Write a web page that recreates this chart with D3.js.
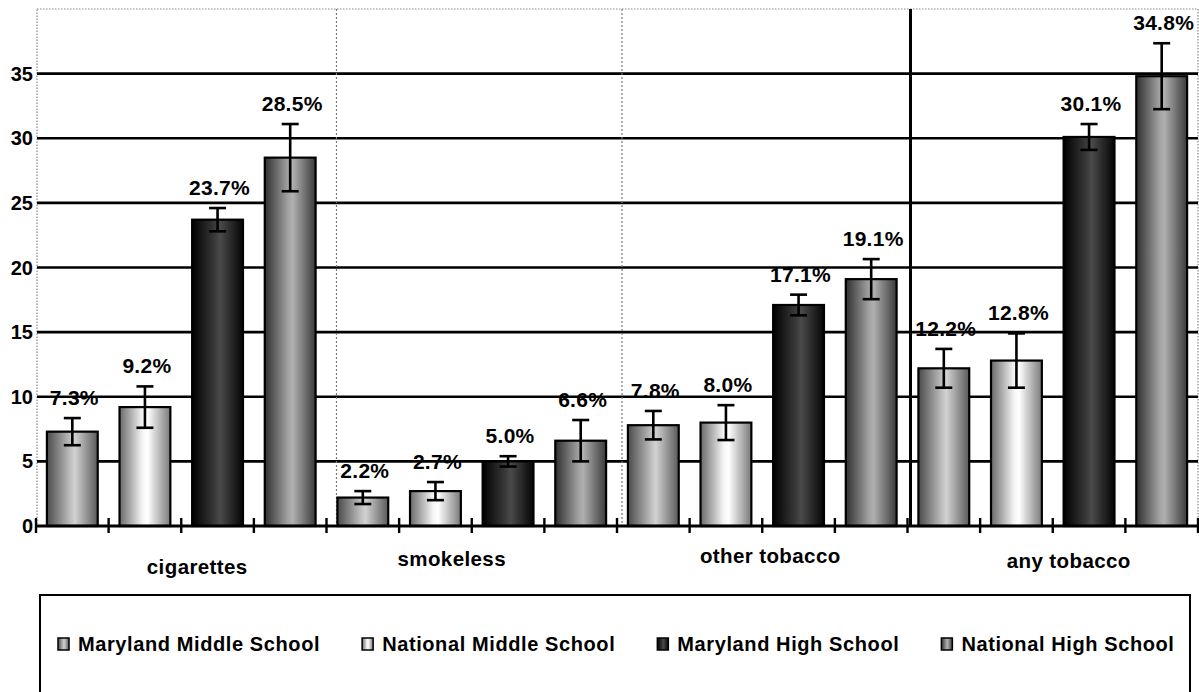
<!DOCTYPE html>
<html>
<head>
<meta charset="utf-8">
<script src="https://cdn.jsdelivr.net/npm/d3@7"></script>
<style>
  html, body { margin: 0; padding: 0; background: #fff; }
  svg { display: block; font-family: "Liberation Sans", Arial, sans-serif; font-weight: bold; }
</style>
</head>
<body>
<svg id="chart" width="1199" height="692"></svg>
<script>
// ---- data ----
const categories = ["cigarettes", "smokeless", "other tobacco", "any tobacco"];
const seriesNames = ["Maryland Middle School", "National Middle School", "Maryland High School", "National High School"];
const mdMiddle  = [7.3, 2.2, 7.8, 12.2];
const natMiddle = [9.2, 2.7, 8.0, 12.8];
const mdHigh    = [23.7, 5.0, 17.1, 30.1];
const natHigh   = [28.5, 6.6, 19.1, 34.8];
const errMdMiddle  = [1.05, 0.5, 1.1, 1.5];
const errNatMiddle = [1.6, 0.7, 1.35, 2.1];
const errMdHigh    = [0.9, 0.4, 0.8, 1.0];
const errNatHigh   = [2.6, 1.6, 1.55, 2.55];
const yTicks = [0, 5, 10, 15, 20, 25, 30, 35];

// ---- layout / style ----
const plotL = 36, plotR = 1198, plotT = 9, plotB = 526;
const gradStops = [
  ["#4a4a4a", "#bcbcbc", "#d2d2d2", "#5a5a5a"],
  ["#6a6a6a", "#f4f4f4", "#ffffff", "#7a7a7a"],
  ["#000000", "#3a3a3a", "#4a4a4a", "#050505"],
  ["#303030", "#a0a0a0", "#b0b0b0", "#3a3a3a"]
];
const catLabelShift = [[16, 48], [-20, 40], [8, 37], [16, 42]];
const dividerShift = [10, 5, 3];

const values = [mdMiddle, natMiddle, mdHigh, natHigh];
const errs = [errMdMiddle, errNatMiddle, errMdHigh, errNatHigh];
const rows = [];
categories.forEach((c, ci) => {
  seriesNames.forEach((s, si) => {
    rows.push({ cat: c, ci, series: s, si, v: values[si][ci], e: errs[si][ci] });
  });
});

const svg = d3.select("#chart");
const defs = svg.append("defs");
gradStops.forEach((st, i) => {
  const g = defs.append("linearGradient").attr("id", "g" + i)
    .attr("x1", "0%").attr("x2", "100%").attr("y1", "0%").attr("y2", "0%");
  [0, 45, 55, 100].forEach((o, k) => g.append("stop").attr("offset", o + "%").attr("stop-color", st[k]));
});

const x0 = d3.scaleBand().domain(categories).range([plotL, plotR]).padding(0);
const x1 = d3.scaleBand().domain(seriesNames).range([0, x0.bandwidth()]).paddingInner(0.3).paddingOuter(0.15);
const y = d3.scaleLinear().domain([0, 40]).range([plotB, plotT]);

// plot border (dotted)
svg.append("rect").attr("x", plotL + 1).attr("y", plotT).attr("width", plotR - plotL - 1).attr("height", plotB - plotT)
  .attr("fill", "none").attr("stroke", "#888").attr("stroke-width", 1.2).attr("stroke-dasharray", "1.5,1.5");

// gridlines
svg.append("g").selectAll("line").data(yTicks.filter(d => d > 0)).join("line")
  .attr("x1", plotL + 1).attr("x2", plotR).attr("y1", d => y(d)).attr("y2", d => y(d))
  .attr("stroke", "#000").attr("stroke-width", 2.6);

// dividers between groups
categories.slice(1).forEach((c, i) => {
  const xx = x0(c) + dividerShift[i];
  const solid = i === 2;
  svg.append("line").attr("x1", xx).attr("x2", xx).attr("y1", plotT).attr("y2", plotB)
    .attr("stroke", solid ? "#000" : "#777")
    .attr("stroke-width", solid ? 3 : 1.2)
    .attr("stroke-dasharray", solid ? null : "2,2");
});

// bars
svg.append("g").selectAll("rect").data(rows).join("rect")
  .attr("x", d => x0(d.cat) + x1(d.series))
  .attr("y", d => y(d.v))
  .attr("width", x1.bandwidth())
  .attr("height", d => y(0) - y(d.v))
  .attr("fill", d => "url(#g" + d.si + ")")
  .attr("stroke", "#000").attr("stroke-width", 2.2);

// error bars
const eg = svg.append("g").attr("stroke", "#000").attr("stroke-width", 2.6);
rows.forEach(d => {
  const cx = x0(d.cat) + x1(d.series) + x1.bandwidth() / 2;
  const yt = y(d.v + d.e), yb = y(d.v - d.e);
  eg.append("line").attr("x1", cx).attr("x2", cx).attr("y1", yt).attr("y2", yb);
  eg.append("line").attr("x1", cx - 8.5).attr("x2", cx + 8.5).attr("y1", yt).attr("y2", yt);
  eg.append("line").attr("x1", cx - 8.5).attr("x2", cx + 8.5).attr("y1", yb).attr("y2", yb);
});

// value labels
svg.append("g").selectAll("text").data(rows).join("text")
  .attr("x", d => x0(d.cat) + x1(d.series) + x1.bandwidth() / 2 + 2)
  .attr("y", d => y(d.v + d.e) - 13)
  .attr("text-anchor", "middle").attr("font-size", 21).attr("letter-spacing", 0.3)
  .text(d => d.v.toFixed(1) + "%");

// x axis
svg.append("line").attr("x1", plotL).attr("x2", plotR).attr("y1", plotB).attr("y2", plotB)
  .attr("stroke", "#000").attr("stroke-width", 3);
const step = x1.step();
const tickPos = d3.range(categories.length * seriesNames.length + 1).map(i => plotL + i * step);
svg.append("g").selectAll("line").data(tickPos).join("line")
  .attr("x1", d => d).attr("x2", d => d).attr("y1", plotB - 8).attr("y2", plotB + 7)
  .attr("stroke", "#000").attr("stroke-width", 2.4);

// y tick labels
svg.append("g").selectAll("text").data(yTicks).join("text")
  .attr("x", 33).attr("y", d => y(d) + 7)
  .attr("text-anchor", "end").attr("font-size", 20)
  .text(d => d);

// category labels
svg.append("g").selectAll("text").data(categories).join("text")
  .attr("x", (d, i) => x0(d) + x0.bandwidth() / 2 + catLabelShift[i][0])
  .attr("y", (d, i) => plotB + catLabelShift[i][1])
  .attr("text-anchor", "middle").attr("font-size", 20.5).attr("letter-spacing", 0.4)
  .text(d => d);

// legend
svg.append("rect").attr("x", 40).attr("y", 595).attr("width", 1150).attr("height", 120)
  .attr("fill", "#fff").attr("stroke", "#000").attr("stroke-width", 2);
const lg = svg.append("g");
let lx = 58;
seriesNames.forEach((s, i) => {
  lg.append("rect").attr("x", lx).attr("y", 638).attr("width", 11).attr("height", 12)
    .attr("fill", "url(#g" + i + ")").attr("stroke", "#000").attr("stroke-width", 1.5);
  const t = lg.append("text").attr("x", lx + 20).attr("y", 651).attr("font-size", 20)
    .attr("letter-spacing", 0.6).text(s);
  lx += 20 + t.node().getComputedTextLength() + 42;
});
</script>
</body>
</html>
